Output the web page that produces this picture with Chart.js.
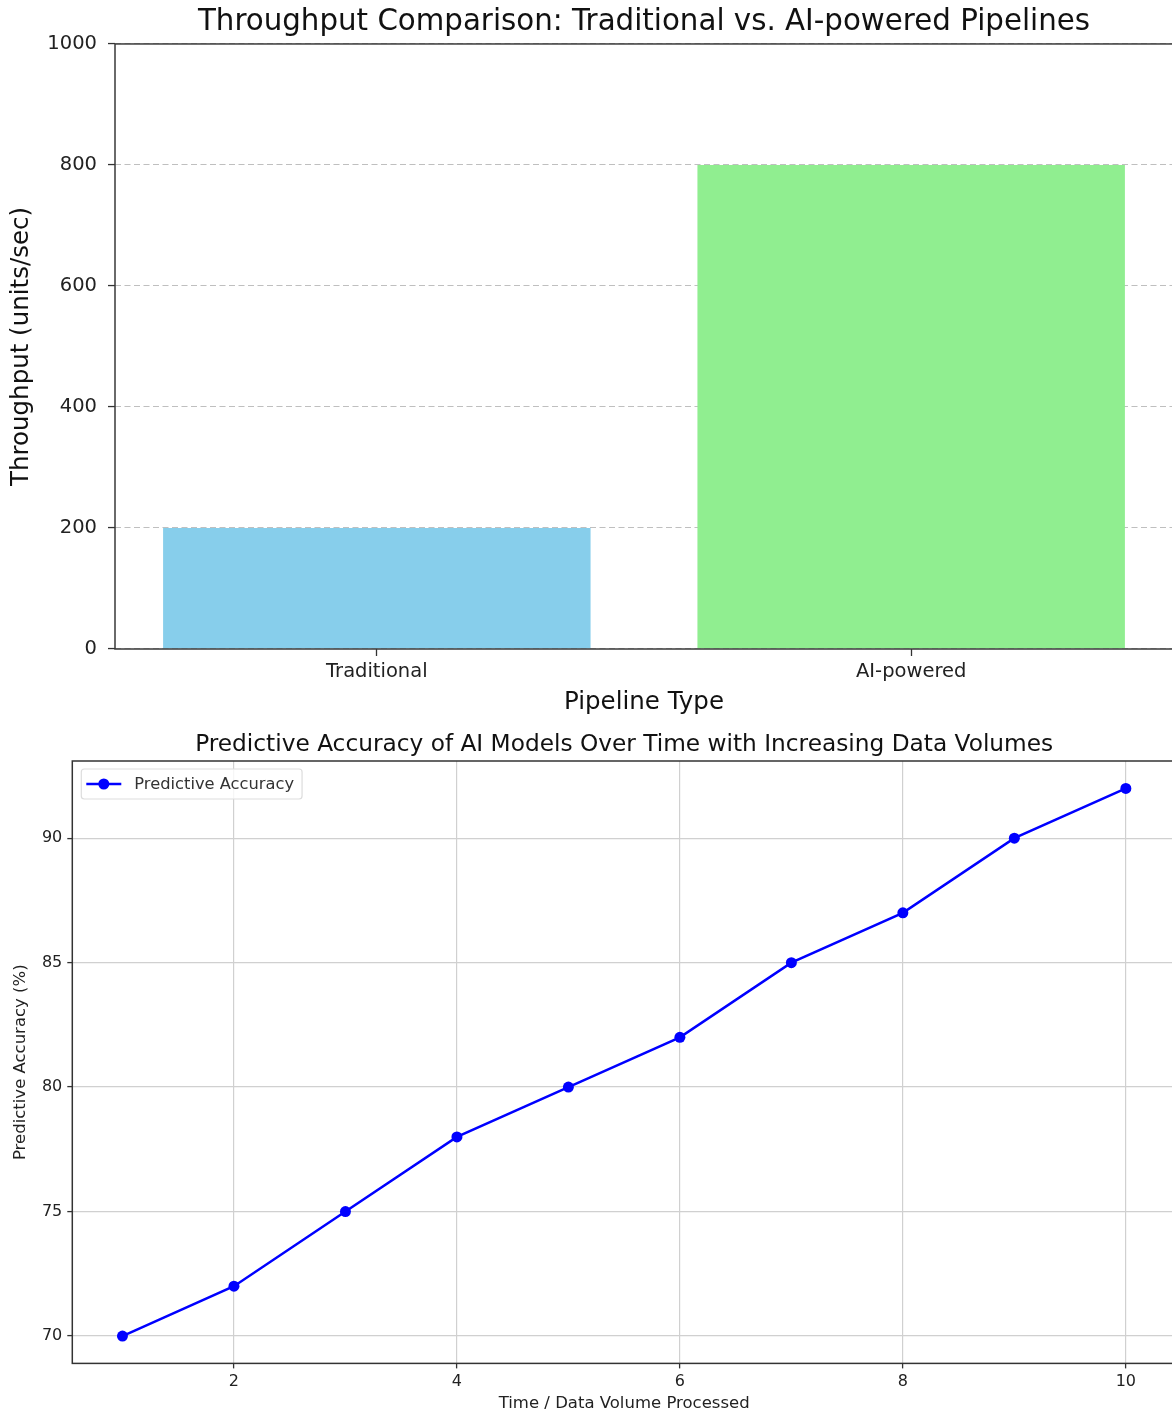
<!DOCTYPE html>
<html><head><meta charset="utf-8">
<script src="https://cdn.jsdelivr.net/npm/chart.js@4.4.1/dist/chart.umd.min.js"></script>
<style>
html,body{margin:0;padding:0;background:#fff;overflow:hidden;width:1172px;height:1414px;position:relative;}
canvas{position:absolute;left:0;display:block;}
#c1{top:0;}
#c2{top:720px;}
</style></head><body>
<canvas id="c1" width="1200" height="720"></canvas>
<canvas id="c2" width="1200" height="694"></canvas>
<script>
// ---- data ----
const pipelineTypes = ['Traditional', 'AI-powered'];
const throughputValues = [200, 800];
const throughputTicks = [0, 200, 400, 600, 800, 1000];
const barColors = ['#87CEEB', '#90EE90'];

const timeSteps = [1, 2, 3, 4, 5, 6, 7, 8, 9, 10];
const accuracyValues = [70, 72, 75, 78, 80, 82, 85, 87, 90, 92];
const timeTicks = [2, 4, 6, 8, 10];
const accuracyTicks = [70, 75, 80, 85, 90];

Chart.defaults.font.family = "'DejaVu Sans', sans-serif";
Chart.defaults.color = '#222';

const framePlugin = {
  id: 'frame',
  afterDraw(chart, args, opts) {
    const {ctx, chartArea: a} = chart;
    ctx.save();
    ctx.strokeStyle = opts.color || '#333';
    ctx.lineWidth = opts.width || 1.4;
    ctx.strokeRect(a.left, a.top, a.right - a.left, a.bottom - a.top);
    ctx.restore();
  }
};

const innerLegend = {
  id: 'innerLegend',
  afterDraw(chart, args, opts) {
    const {ctx, chartArea: a} = chart;
    const ds = chart.data.datasets[0];
    ctx.save();
    ctx.font = opts.fontSize + "px 'DejaVu Sans', sans-serif";
    const tw = ctx.measureText(ds.label).width;
    const x = a.left + opts.offsetX, y = a.top + opts.offsetY;
    const w = tw + opts.textStart + 8, h = opts.height;
    ctx.fillStyle = 'rgba(255,255,255,0.8)';
    ctx.strokeStyle = '#dddddd';
    ctx.lineWidth = 1.2;
    ctx.beginPath();
    ctx.roundRect(x, y, w, h, 3);
    ctx.fill();
    ctx.stroke();
    const cy = y + h / 2;
    ctx.strokeStyle = ds.borderColor;
    ctx.lineWidth = ds.borderWidth;
    ctx.beginPath();
    ctx.moveTo(x + 5, cy);
    ctx.lineTo(x + 40, cy);
    ctx.stroke();
    ctx.fillStyle = ds.pointBackgroundColor;
    ctx.beginPath();
    ctx.arc(x + 22.5, cy, ds.pointRadius, 0, Math.PI * 2);
    ctx.fill();
    ctx.fillStyle = '#333';
    ctx.textBaseline = 'middle';
    ctx.fillText(ds.label, x + opts.textStart, cy + 1);
    ctx.restore();
  }
};

// ---- chart 1: bars ----
new Chart(document.getElementById('c1'), {
  type: 'bar',
  data: {
    datasets: [{
      data: pipelineTypes.map((c, i) => ({x: i, y: throughputValues[i]})),
      backgroundColor: barColors,
      borderWidth: 0,
      barPercentage: 0.8,
      categoryPercentage: 1
    }]
  },
  options: {
    responsive: false, animation: false,
    layout: {padding: {left: 0, right: 27, top: 0, bottom: 0}},
    plugins: {
      legend: {display: false}, tooltip: {enabled: false},
      title: {display: true, fullSize: false, text: 'Throughput Comparison: Traditional vs. AI-powered Pipelines',
        color: '#111', font: {size: 29.3, weight: 'normal'}, padding: {top: 5, bottom: 3.8}},
      frame: {color: '#3a3a3a', width: 1.5}
    },
    scales: {
      x: {
        type: 'linear', min: -0.49, max: 1.49, offset: false,
        afterBuildTicks(s) { s.ticks = pipelineTypes.map((c, i) => ({value: i})); },
        ticks: {callback: v => pipelineTypes[v], font: {size: 19.5}, color: '#222', padding: 4, maxRotation: 0, autoSkip: false},
        grid: {offset: false, drawOnChartArea: false, tickLength: 7, tickColor: '#333', tickWidth: 1.3},
        border: {display: false},
        title: {display: true, text: 'Pipeline Type', color: '#111', font: {size: 24.5}, padding: {top: 0, bottom: 3}},
        afterFit(s) { s.height = 71; }
      },
      y: {
        min: 0, max: 1000, z: 1,
        afterBuildTicks(s) { s.ticks = throughputTicks.map(v => ({value: v})); },
        ticks: {callback: v => String(v), font: {size: 19.5}, color: '#222', padding: 11},
        grid: {color: 'rgba(170,170,170,0.75)', lineWidth: 1.1, tickLength: 7, tickColor: '#333', tickWidth: 1.3, tickBorderDash: []},
        border: {display: false, dash: [6, 3.5]},
        title: {display: true, text: 'Throughput (units/sec)', color: '#111', font: {size: 24.5}, padding: {top: 7.3, bottom: 0}},
        afterFit(s) { s.width = 115; }
      }
    }
  },
  plugins: [framePlugin]
});

// ---- chart 2: line ----
new Chart(document.getElementById('c2'), {
  type: 'line',
  data: {
    datasets: [{
      label: 'Predictive Accuracy',
      data: timeSteps.map((t, i) => ({x: t, y: accuracyValues[i]})),
      borderColor: '#0000ff', backgroundColor: '#0000ff',
      borderWidth: 2.5, pointRadius: 5.5, pointBackgroundColor: '#0000ff', pointBorderWidth: 0,
      tension: 0, fill: false
    }]
  },
  options: {
    responsive: false, animation: false,
    layout: {padding: {left: 0, right: 24, top: 0, bottom: 0}},
    plugins: {
      legend: {display: false}, tooltip: {enabled: false},
      title: {display: true, fullSize: false, text: 'Predictive Accuracy of AI Models Over Time with Increasing Data Volumes',
        color: '#111', font: {size: 23.25, weight: 'normal'}, padding: {top: 11, bottom: 2.1}},
      frame: {color: '#333', width: 1.5},
      innerLegend: {offsetX: 9, offsetY: 8, height: 30, textStart: 53, fontSize: 16.3}
    },
    scales: {
      x: {
        type: 'linear', min: 0.55, max: 10.45,
        afterBuildTicks(s) { s.ticks = timeTicks.map(v => ({value: v})); },
        ticks: {font: {size: 16}, color: '#222', padding: 4, maxRotation: 0},
        grid: {color: '#d0d0d0', lineWidth: 1.2, tickLength: 5, tickColor: '#333', tickWidth: 1.3},
        border: {display: false},
        title: {display: true, text: 'Time / Data Volume Processed', color: '#222', font: {size: 16.5}, padding: {top: 0, bottom: 0}},
        afterFit(s) { s.height = 50.6; }
      },
      y: {
        min: 68.9, max: 93.1,
        afterBuildTicks(s) { s.ticks = accuracyTicks.map(v => ({value: v})); },
        ticks: {font: {size: 16}, color: '#222', padding: 5},
        grid: {color: '#d0d0d0', lineWidth: 1.2, tickLength: 5, tickColor: '#333', tickWidth: 1.3},
        border: {display: false},
        title: {display: true, text: 'Predictive Accuracy (%)', color: '#222', font: {size: 16.5}, padding: {top: 11, bottom: 0}},
        afterFit(s) { s.width = 72.3; }
      }
    }
  },
  plugins: [framePlugin, innerLegend]
});
</script>
</body></html>
